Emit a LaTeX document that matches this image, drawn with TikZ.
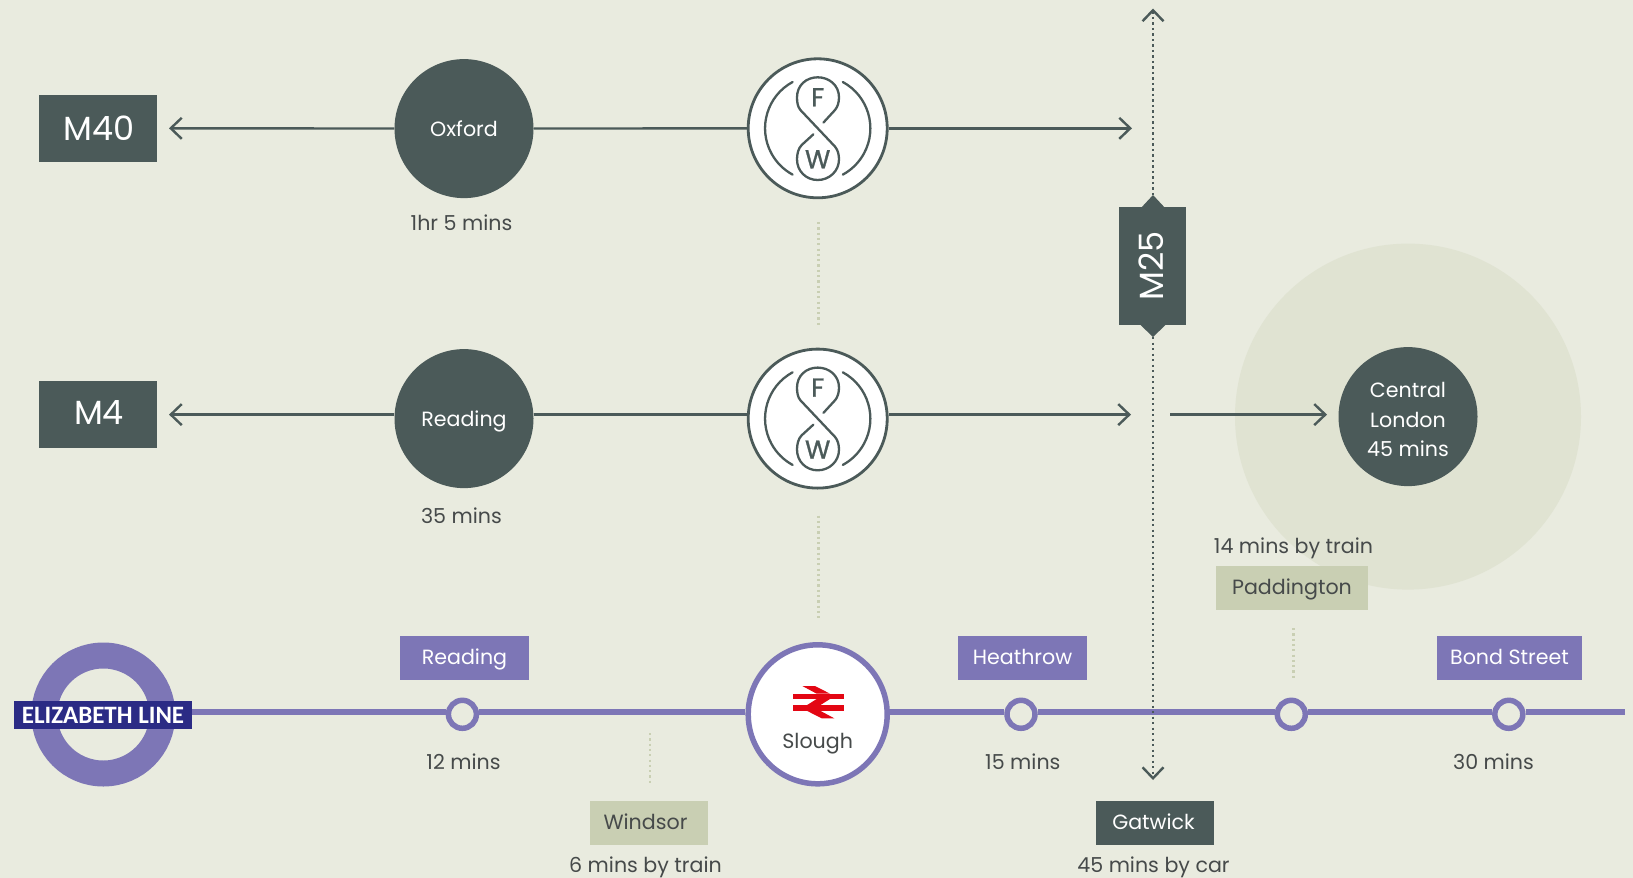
\documentclass[tikz,border=0pt]{standalone}
\usepackage{fontspec}
\setmainfont{Poppins}
\newfontfamily\barfont{Carlito}
\newfontfamily\logofont[FakeBold=1]{Poppins}
\usetikzlibrary{arrows.meta}
\definecolor{bgc}{HTML}{E9EBDF}
\definecolor{darkc}{HTML}{4B5A59}
\definecolor{halo}{HTML}{E0E3D2}
\definecolor{sage}{HTML}{C9CFB3}
\definecolor{lilac}{HTML}{7D76B6}
\definecolor{navyc}{HTML}{2B2B85}
\definecolor{redc}{HTML}{E30613}
\definecolor{txt}{HTML}{464A4A}
\newcommand{\fs}[1]{\fontsize{#1}{#1}\selectfont}
\tikzset{
  lab/.style={font=\fs{20.6},text=txt,anchor=base,inner sep=0pt},
  motorway/.style={fill=darkc,text=white,inner sep=0pt,minimum width=118pt,minimum height=67pt,font=\fs{33.5}},
  town/.style={circle,fill=darkc,text=white,inner sep=0pt,minimum size=139pt,font=\fs{20.6},align=center,text height=16pt,text depth=0pt},
  fwring/.style={circle,draw=darkc,fill=white,line width=2.8pt,inner sep=0pt,minimum size=139pt},
  tagbox/.style={inner sep=0pt,minimum height=44pt,font=\fs{20.6},text height=14pt,text depth=0pt},
  purpletag/.style={tagbox,fill=lilac,text=white},
  sagetag/.style={tagbox,fill=sage,text=txt},
  darktag/.style={tagbox,fill=darkc,text=white},
  halt/.style={circle,draw=lilac,fill=bgc,line width=5.5pt,inner sep=0pt,minimum size=28pt},
  road/.style={draw=darkc,line width=2.4pt},
  roadarrow/.style={road,-{Straight Barb[length=11pt,width=21pt,line width=2.4pt]}},
  lilacline/.style={draw=lilac,line width=5.5pt},
  orbital/.style={draw=darkc,line width=2.6pt,dash pattern=on 2.3pt off 3.2pt},
  paledots/.style={draw=sage,line width=2.6pt,dash pattern=on 2.2pt off 3.1pt},
  fwlogo/.pic={
    \draw[darkc,line width=2.3pt,line cap=round,line join=round]
      (5.7,-5.7) -- (17.3,-18.3)
      .. controls (20,-21.5) and (21.3,-26) .. (21.3,-31)
      .. controls (21.3,-43) and (11.5,-51) .. (0,-51)
      .. controls (-11.5,-51) and (-20.7,-43) .. (-20.7,-31)
      .. controls (-20.7,-26) and (-20,-21.5) .. (-17.3,-18.3)
      -- (17.3,18.3)
      .. controls (20,21.5) and (21.3,26) .. (21.3,31)
      .. controls (21.3,43) and (11.5,51.7) .. (0,51.7)
      .. controls (-11.5,51.7) and (-20.7,43) .. (-20.7,31)
      .. controls (-20.7,26) and (-19.5,20) .. (-16,16.7)
      -- (-4.3,6);
    \draw[darkc,line width=2.3pt,line cap=round]
      (-25.1,-46.3) arc[start angle=118.5,end angle=241.5,radius=52.7pt];
    \draw[darkc,line width=2.3pt,line cap=round]
      (25.1,-46.3) arc[start angle=61.5,end angle=-61.5,radius=52.7pt];
    \node[text=darkc,inner sep=0pt,font=\logofont\fs{26}] (-logoF) at (0,-31) {F};
    \node[text=darkc,inner sep=0pt,font=\logofont\fs{26}] (-logoW) at (0,31) {W};
  }
}
\begin{document}
\begin{tikzpicture}[x=1pt,y=-1pt]
\useasboundingbox (0,0) rectangle (1633,878);
\fill[bgc] (0,0) rectangle (1633,878);
\fill[halo] (1408,416.6) circle[radius=173pt];

% free ends
\coordinate (m40tip) at (169,128.3);
\coordinate (m4tip) at (169,414.6);
\coordinate (row1end) at (1132,128.3);
\coordinate (row2end) at (1131,414.6);
\coordinate (row2start) at (1170,414.6);
\coordinate (row2tip) at (1327,414.6);
\coordinate (orbN) at (1153,8.5);
\coordinate (orbS) at (1153,780);
\coordinate (peakN) at (1153,195);
\coordinate (peakS) at (1153,337);
\coordinate (lineend) at (1625,712);

% nodes
\node[motorway] (m40) at (98,128.5) {\hspace*{2pt}M40};
\node[motorway,text height=19.5pt,text depth=0pt] (m4) at (98,414.5) {\hspace*{2pt}M4};
\node[town] (oxford) at (464,128.6) {Oxford};
\node[town] (readingtown) at (464,418.6) {Reading};
\node[fwring] (fwa) at (817.7,128.3) {};
\node[fwring] (fwb) at (817.7,418.6) {};
\node[town] (central) at (1408,416.6) {};
\node[font=\fs{20.6},text=white,inner sep=0pt,anchor=base] (cl1) at (1408,397.5) {Central};
\node[font=\fs{20.6},text=white,inner sep=0pt,anchor=base] (cl2) at (1408,427.5) {London};
\node[font=\fs{20.6},text=white,inner sep=0pt,anchor=base] (cl3) at (1408,456.5) {45 mins};
\node[fill=darkc,text=white,inner sep=0pt,minimum width=67pt,minimum height=118pt] (m25) at (1152.5,266) {};
\node[rotate=90,text=white,inner sep=0pt,font=\fs{33.5}] (m25t) at (1151,266) {M25};

% road connectors
\draw[roadarrow] (oxford) -- (m40tip);
\draw[road] (oxford) -- (fwa);
\draw[roadarrow] (fwa) -- (row1end);
\draw[roadarrow] (readingtown.west |- m4tip) -- (m4tip);
\draw[road] (readingtown.east |- m4tip) -- (fwb.west |- m4tip);
\draw[roadarrow] (fwb.east |- m4tip) -- (row2end);
\draw[roadarrow] (row2start) -- (row2tip);

% logos
\path (fwa) pic (la) {fwlogo};
\path (fwb) pic (lb) {fwlogo};

% M25 peaks
\fill[darkc] (1141.4,207.5) -- (peakN) -- (1164.6,207.5) -- cycle;
\fill[darkc] (1140,324.5) -- (peakS) -- (1166,324.5) -- cycle;

% pale links
\coordinate (p1a) at (818.6,222); \coordinate (p1b) at (818.6,325);
\coordinate (p2a) at (818.6,515.5); \coordinate (p2b) at (818.6,619);
\coordinate (p3a) at (1293.5,628); \coordinate (p3b) at (1293.5,679);
\coordinate (p4a) at (650,733); \coordinate (p4b) at (650,783);
\draw[paledots] (p1a) -- (p1b);
\draw[paledots] (p2a) -- (p2b);
\draw[paledots] (p3a) -- (p3b);
\draw[paledots] (p4a) -- (p4b);

% Elizabeth line
\node[circle,draw=lilac,line width=26pt,inner sep=0pt,minimum size=118pt] (roundel) at (103.3,714.5) {};
\node[fill=navyc,text=white,inner sep=0pt,minimum width=178pt,minimum height=28pt,font=\barfont\bfseries\fs{25}] (elizabeth) at (103,715) {ELIZABETH LINE};
\node[halt] (sr) at (462.4,714.3) {};
\node[halt] (sh) at (1021,714.3) {};
\node[halt] (sp) at (1291.3,714.3) {};
\node[halt] (sb) at (1508.8,714.3) {};
\node[circle,draw=lilac,fill=white,line width=5.5pt,inner sep=0pt,minimum size=139pt] (slough) at (817.7,714.3) {};
\draw[lilacline] (elizabeth.east |- lineend) -- (sr.west |- lineend);
\draw[lilacline] (sr.east |- lineend) -- (slough.west |- lineend);
\draw[lilacline] (slough.east |- lineend) -- (sh.west |- lineend);
\draw[lilacline] (sh.east |- lineend) -- (sp.west |- lineend);
\draw[lilacline] (sp.east |- lineend) -- (sb.west |- lineend);
\draw[lilacline] (sb.east |- lineend) -- (lineend);

% British Rail mark
\begin{scope}[shift={(785,680)},x=0.3333pt,y=-0.3333pt]
\fill[redc] (23,41) rectangle (176,57);
\fill[redc] (23,76) rectangle (176,92);
\fill[redc] (52,18) -- (90,18) -- (135,41) -- (95,41) -- cycle;
\fill[redc] (95,57) -- (135,57) -- (105,76) -- (65,76) -- cycle;
\fill[redc] (65,92) -- (105,92) -- (148,115) -- (110,115) -- cycle;
\end{scope}
\node[lab] (sloughlab) at (817.7,748) {Slough};

% orbital
\draw[orbital,{Straight Barb[length=11pt,width=21pt,line width=2.4pt]}-] (orbN) -- (peakN);
\draw[orbital,-{Straight Barb[length=11pt,width=21pt,line width=2.4pt]}] (peakS) -- (orbS);

% tags
\node[purpletag,minimum width=129pt] (tr) at (464.5,657.5) {Reading};
\node[purpletag,minimum width=129pt] (th) at (1022,657.5) {\hspace*{1pt}Heathrow};
\node[purpletag,minimum width=145pt] (tb) at (1509.5,657.5) {Bond Street};
\node[sagetag,minimum width=152pt,text height=12pt] (tp) at (1292,588) {Paddington};
\node[sagetag,minimum width=118pt] (tw) at (649,823) {};
\node[tagbox,text=txt,minimum height=0pt,text height=12.6pt] (twt) at (645.5,823) {Windsor};
\node[darktag,minimum width=118pt,text height=12.6pt] (tg) at (1155,823) {\hspace*{-3pt}Gatwick};

% labels
\node[lab] (t1) at (461.5,230) {1hr 5 mins};
\node[lab] (t2) at (461.5,523) {35 mins};
\node[lab] (t3) at (1293.5,553) {14 mins by train};
\node[lab] (t4) at (463.5,769) {12 mins};
\node[lab] (t5) at (1022.8,769) {15 mins};
\node[lab] (t6) at (1493.5,769) {30 mins};
\node[lab] (t7) at (645.5,872.7) {6 mins by train};
\node[lab] (t8) at (1153.5,872.7) {45 mins by car};
\end{tikzpicture}
\end{document}
